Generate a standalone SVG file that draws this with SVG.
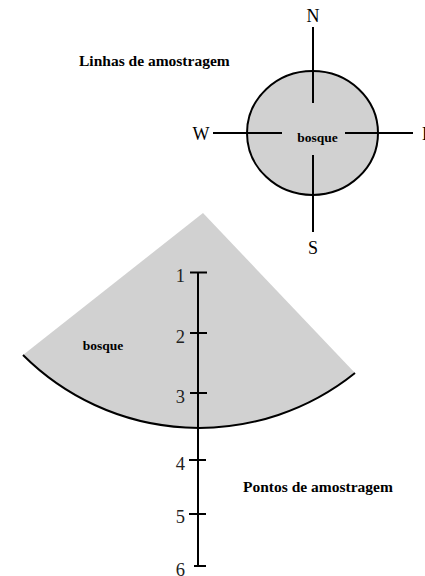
<svg xmlns="http://www.w3.org/2000/svg" width="425" height="576" viewBox="0 0 425 576">
<style>
.ln{stroke:#000;stroke-width:2;fill:none}
.t{font-family:"Liberation Serif","Times New Roman",serif;fill:#000}
.b{font-weight:bold;font-size:15.5px}
.sb{font-weight:bold;font-size:13.5px;text-anchor:middle}
.c{font-size:18px;text-anchor:middle}
.d{font-size:18.5px;text-anchor:end;fill:#222}
</style>
<rect width="425" height="576" fill="#fff"/>
<g id="title-lines"><text class="t b" x="79" y="66">Linhas de amostragem</text></g>
<g id="compass-wood">
<ellipse cx="312.5" cy="133" rx="65.5" ry="62" fill="#d1d1d1" class="ln" style="fill:#d1d1d1"/>
<text class="t sb" x="317.5" y="142">bosque</text>
</g>
<g id="connectors">
<line class="ln" x1="313" y1="27" x2="313" y2="103"/>
<line class="ln" x1="313" y1="155" x2="313" y2="232"/>
<line class="ln" x1="213" y1="133" x2="282" y2="133"/>
<line class="ln" x1="345" y1="133" x2="413" y2="133"/>
</g>
<g id="label-N"><text class="t c" x="313" y="22">N</text></g>
<g id="label-S"><text class="t c" x="313" y="254">S</text></g>
<g id="label-W"><text class="t c" x="201" y="140">W</text></g>
<g id="label-E"><text class="t" style="font-size:18px" x="422" y="140">E</text></g>
<g id="sector-wood">
<path d="M203 213 L23 355 A249 249 0 0 0 355 373 Z" fill="#d1d1d1"/>
<path class="ln" d="M23 355 A249 249 0 0 0 355 373"/>
<text class="t sb" x="103" y="350">bosque</text>
</g>
<g id="transect">
<line class="ln" x1="198" y1="272" x2="198" y2="567"/>
<line class="ln" x1="190" y1="272.5" x2="207" y2="272.5"/>
<line class="ln" x1="190" y1="333" x2="207" y2="333"/>
<line class="ln" x1="190" y1="393" x2="207" y2="393"/>
<line class="ln" x1="189" y1="460" x2="206" y2="460"/>
<line class="ln" x1="189" y1="514" x2="206" y2="514"/>
<line class="ln" x1="194" y1="566" x2="206" y2="566"/>
<text class="t d" x="185" y="282">1</text>
<text class="t d" x="185" y="343">2</text>
<text class="t d" x="185" y="403">3</text>
<text class="t d" x="185" y="470">4</text>
<text class="t d" x="185" y="523">5</text>
<text class="t d" x="185" y="576">6</text>
</g>
<g id="title-points"><text class="t b" x="243" y="492">Pontos de amostragem</text></g>
</svg>
